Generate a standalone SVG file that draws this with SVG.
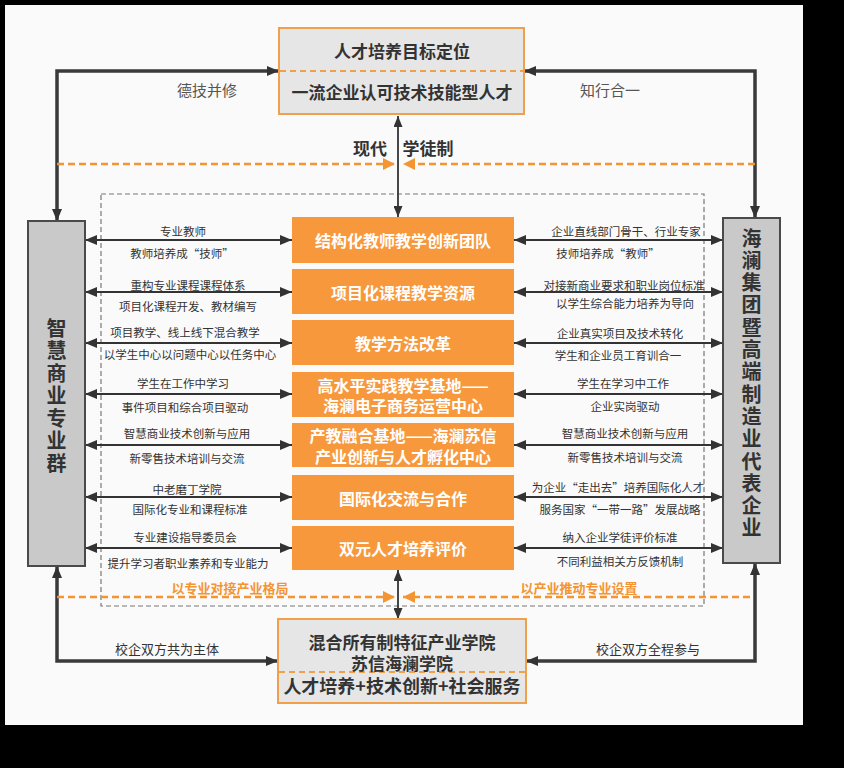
<svg xmlns="http://www.w3.org/2000/svg" width="844" height="768" viewBox="0 0 844 768">
<defs>
<style>
text{font-family:"Noto Sans CJK SC","Noto Sans",sans-serif;text-anchor:middle;dominant-baseline:central}
.lbl{font-size:11.5px;fill:#333}
.ob{fill:#F7983C}
.ot{font-size:16px;font-weight:bold;fill:#fff}
.gt{font-size:17px;font-weight:bold;fill:#333}
.vt{font-size:20px;font-weight:bold;fill:#333;writing-mode:vertical-rl;text-anchor:start}
.thick{fill:none;stroke:#3a3a3a;stroke-width:3.5}
.thin{fill:none;stroke:#333;stroke-width:2.2}
.od{fill:none;stroke:#F39533;stroke-width:2.5;stroke-dasharray:7,4}
.or{font-size:13px;font-weight:bold;fill:#F39533}
.side{font-size:15px;fill:#555}
.side2{font-size:13px;fill:#333}
</style>
<marker id="ah" markerUnits="userSpaceOnUse" markerWidth="12" markerHeight="10" refX="12" refY="5" orient="auto-start-reverse"><path d="M0,0 L12,5 L0,10 z" fill="#333"/></marker>
<marker id="ahs" markerUnits="userSpaceOnUse" markerWidth="11" markerHeight="9" refX="11" refY="4.5" orient="auto-start-reverse"><path d="M0,0 L11,4.5 L0,9 z" fill="#333"/></marker>
<marker id="oh" markerUnits="userSpaceOnUse" markerWidth="12" markerHeight="12" refX="12" refY="6" orient="auto"><path d="M0,0 L12,6 L0,12 z" fill="#F39533"/></marker>
</defs>
<rect width="844" height="768" fill="#000"/>
<rect x="5" y="5" width="798" height="720" fill="#FAFAFA"/>

<rect x="101" y="194" width="603" height="412" fill="none" stroke="#777" stroke-width="1.2" stroke-dasharray="5,3"/>

<g id="connectors">
<path class="thick" d="M57,221 V71 H279" marker-start="url(#ah)" marker-end="url(#ah)"/>
<path class="thick" d="M755,218 V71 H524" marker-start="url(#ah)" marker-end="url(#ah)"/>
<path class="thick" d="M57,566 V661 H278" marker-start="url(#ah)" marker-end="url(#ah)"/>
<path class="thick" d="M755,563 V661 H526" marker-start="url(#ah)" marker-end="url(#ah)"/>
<path class="thin" style="stroke-width:1.8" d="M398,116 V217" marker-start="url(#ahs)" marker-end="url(#ahs)"/>
<path class="thin" style="stroke-width:1.8" d="M398,570 V619" marker-start="url(#ahs)" marker-end="url(#ahs)"/>
<path class="od" d="M57,164 H395" marker-end="url(#oh)"/>
<path class="od" d="M755,164 H403" marker-end="url(#oh)"/>
<path class="od" d="M57,597 H395" marker-end="url(#oh)"/>
<path class="od" d="M750,597 H403" marker-end="url(#oh)"/>
<g marker-start="url(#ah)" marker-end="url(#ah)" class="thin">
<path d="M85,240 H292"/><path d="M85,292 H292"/><path d="M85,343 H292"/><path d="M85,394 H292"/><path d="M85,445 H292"/><path d="M85,497 H292"/><path d="M85,548 H292"/>
<path d="M514,240 H723"/><path d="M514,292 H723"/><path d="M514,343 H723"/><path d="M514,394 H723"/><path d="M514,445 H723"/><path d="M514,497 H723"/><path d="M514,548 H723"/>
</g>
</g>

<g id="labels">
<text class="side" x="207" y="89">德技并修</text>
<text class="side" x="610" y="89">知行合一</text>
<text class="gt" x="370" y="147">现代</text>
<text class="gt" x="428" y="147">学徒制</text>
<text class="or" x="230" y="587">以专业对接产业格局</text>
<text class="or" x="579" y="587">以产业推动专业设置</text>
<text class="side2" x="167" y="648">校企双方共为主体</text>
<text class="side2" x="648" y="648">校企双方全程参与</text>

<text class="lbl" x="183" y="231">专业教师</text>
<text class="lbl" x="182" y="253">教师培养成“技师”</text>
<text class="lbl" x="188" y="285">重构专业课程课程体系</text>
<text class="lbl" x="188" y="306">项目化课程开发、教材编写</text>
<text class="lbl" x="185" y="332">项目教学、线上线下混合教学</text>
<text class="lbl" x="190" y="354">以学生中心以问题中心以任务中心</text>
<text class="lbl" x="183" y="383">学生在工作中学习</text>
<text class="lbl" x="185" y="407">事件项目和综合项目驱动</text>
<text class="lbl" x="187" y="433">智慧商业技术创新与应用</text>
<text class="lbl" x="187" y="458">新零售技术培训与交流</text>
<text class="lbl" x="187" y="489">中老磨丁学院</text>
<text class="lbl" x="190" y="509">国际化专业和课程标准</text>
<text class="lbl" x="185" y="537">专业建设指导委员会</text>
<text class="lbl" x="188" y="563">提升学习者职业素养和专业能力</text>

<text class="lbl" x="626" y="231">企业直线部门骨干、行业专家</text>
<text class="lbl" x="608" y="253">技师培养成“教师”</text>
<text class="lbl" x="624" y="285">对接新商业要求和职业岗位标准</text>
<text class="lbl" x="625" y="303">以学生综合能力培养为导向</text>
<text class="lbl" x="620" y="333">企业真实项目及技术转化</text>
<text class="lbl" x="618" y="355">学生和企业员工育训合一</text>
<text class="lbl" x="623" y="383">学生在学习中工作</text>
<text class="lbl" x="625" y="406">企业实岗驱动</text>
<text class="lbl" x="625" y="433">智慧商业技术创新与应用</text>
<text class="lbl" x="625" y="457">新零售技术培训与交流</text>
<text class="lbl" x="618" y="487">为企业“走出去”培养国际化人才</text>
<text class="lbl" x="620" y="509">服务国家“一带一路”发展战略</text>
<text class="lbl" x="620" y="537">纳入企业学徒评价标准</text>
<text class="lbl" x="620" y="561">不同利益相关方反馈机制</text>
</g>

<g id="node-top">
<rect x="279" y="28" width="245" height="86" fill="#E6E6E6" stroke="#F0A04B" stroke-width="2"/>
<line x1="280" y1="71" x2="523" y2="71" stroke="#F0A04B" stroke-width="1.8" stroke-dasharray="6,4"/>
<text class="gt" x="402" y="50">人才培养目标定位</text>
<text class="gt" x="402" y="91">一流企业认可技术技能型人才</text>
</g>

<g id="node-bottom">
<rect x="278" y="619" width="248" height="84" fill="#E6E6E6" stroke="#F0A04B" stroke-width="2"/>
<line x1="279" y1="672" x2="525" y2="672" stroke="#F0A04B" stroke-width="1.8" stroke-dasharray="6,4"/>
<text class="gt"><tspan x="402" y="641">混合所有制特征产业学院</tspan><tspan x="402" y="662">苏信海澜学院</tspan><tspan x="402" y="685" style="font-size:18px">人才培养+技术创新+社会服务</tspan></text>
</g>

<g id="node-left">
<rect x="28" y="221" width="57" height="345" fill="#C9C9C9" stroke="#4a4a4a" stroke-width="2"/>
<text class="vt" x="56.5" y="318" letter-spacing="2.5">智慧商业专业群</text>
</g>

<g id="node-right">
<rect x="723" y="218" width="57" height="345" fill="#C9C9C9" stroke="#4a4a4a" stroke-width="2"/>
<text class="vt" x="751.5" y="228" letter-spacing="2.3">海澜集团暨高端制造业代表企业</text>
</g>

<g id="node-1"><rect class="ob" x="292" y="217" width="222" height="46"/><text class="ot" x="403" y="240">结构化教师教学创新团队</text></g>
<g id="node-2"><rect class="ob" x="292" y="269" width="222" height="45"/><text class="ot" x="403" y="292">项目化课程教学资源</text></g>
<g id="node-3"><rect class="ob" x="292" y="320" width="222" height="45"/><text class="ot" x="403" y="343">教学方法改革</text></g>
<g id="node-4"><rect class="ob" x="292" y="372" width="222" height="45"/><text class="ot"><tspan x="403" y="385">高水平实践教学基地——</tspan><tspan x="403" y="405">海澜电子商务运营中心</tspan></text></g>
<g id="node-5"><rect class="ob" x="292" y="423" width="222" height="44"/><text class="ot"><tspan x="403" y="435">产教融合基地——海澜苏信</tspan><tspan x="403" y="456">产业创新与人才孵化中心</tspan></text></g>
<g id="node-6"><rect class="ob" x="292" y="475" width="222" height="45"/><text class="ot" x="403" y="498">国际化交流与合作</text></g>
<g id="node-7"><rect class="ob" x="292" y="526" width="222" height="44"/><text class="ot" x="403" y="548">双元人才培养评价</text></g>
</svg>
